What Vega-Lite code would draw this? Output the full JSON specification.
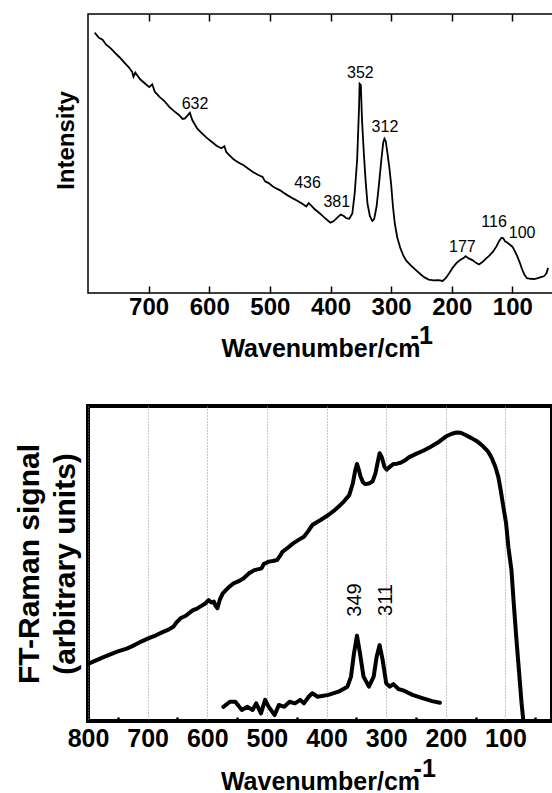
{
  "$schema": "https://vega.github.io/schema/vega-lite/v6.json",
  "padding": {"left": 11, "top": 12, "right": 0, "bottom": 0},
  "background": "white",
  "config": {"view": {"stroke": null}, "font": "Liberation Sans"},
  "spacing": 42,
  "datasets": {
    "top": [
      {"w":789,"v":93.3},{"w":782,"v":91.5},{"w":776,"v":90.8},{"w":770,"v":89.0},{"w":762,"v":87.6},{"w":755,"v":86.0},{"w":748,"v":84.5},{"w":740,"v":82.6},{"w":733,"v":81.0},{"w":727,"v":79.2},{"w":725,"v":77.5},{"w":722,"v":79.0},{"w":714,"v":76.6},{"w":706,"v":75.1},{"w":699,"v":73.8},{"w":694,"v":74.8},{"w":690,"v":72.2},{"w":682,"v":70.3},{"w":674,"v":68.8},{"w":666,"v":66.7},{"w":658,"v":65.2},{"w":650,"v":63.8},{"w":644,"v":62.4},{"w":640,"v":62.6},{"w":636,"v":63.6},{"w":632,"v":64.6},{"w":628,"v":62.0},{"w":620,"v":59.0},{"w":612,"v":57.2},{"w":604,"v":55.6},{"w":596,"v":54.2},{"w":588,"v":52.8},{"w":580,"v":51.9},{"w":575,"v":52.6},{"w":572,"v":50.5},{"w":566,"v":49.2},{"w":560,"v":47.9},{"w":552,"v":46.8},{"w":544,"v":45.9},{"w":536,"v":44.6},{"w":528,"v":43.4},{"w":520,"v":42.4},{"w":512,"v":41.6},{"w":508,"v":40.0},{"w":502,"v":39.4},{"w":495,"v":38.2},{"w":488,"v":37.3},{"w":483,"v":36.8},{"w":478,"v":36.0},{"w":470,"v":34.9},{"w":462,"v":33.9},{"w":454,"v":33.0},{"w":446,"v":31.9},{"w":440,"v":31.0},{"w":436,"v":32.2},{"w":432,"v":31.4},{"w":426,"v":30.0},{"w":418,"v":28.6},{"w":410,"v":27.0},{"w":404,"v":25.9},{"w":400,"v":25.2},{"w":396,"v":25.6},{"w":392,"v":26.3},{"w":388,"v":27.2},{"w":383,"v":28.1},{"w":378,"v":27.6},{"w":374,"v":26.8},{"w":369,"v":26.6},{"w":364,"v":28.5},{"w":360,"v":36.0},{"w":356,"v":48.0},{"w":353,"v":66.0},{"w":352,"v":75.0},{"w":350,"v":74.5},{"w":348,"v":62.0},{"w":345,"v":50.0},{"w":342,"v":40.0},{"w":339,"v":32.0},{"w":335,"v":27.5},{"w":331,"v":25.8},{"w":328,"v":26.5},{"w":324,"v":31.0},{"w":320,"v":39.0},{"w":316,"v":48.0},{"w":313,"v":54.0},{"w":311,"v":55.3},{"w":309,"v":54.5},{"w":306,"v":50.0},{"w":303,"v":45.0},{"w":300,"v":39.0},{"w":297,"v":31.0},{"w":294,"v":25.0},{"w":290,"v":20.0},{"w":285,"v":16.2},{"w":280,"v":13.5},{"w":275,"v":11.6},{"w":268,"v":10.0},{"w":260,"v":8.4},{"w":252,"v":6.8},{"w":245,"v":5.6},{"w":238,"v":4.8},{"w":230,"v":4.5},{"w":222,"v":4.6},{"w":215,"v":4.3},{"w":210,"v":5.3},{"w":204,"v":7.2},{"w":198,"v":9.2},{"w":192,"v":10.8},{"w":186,"v":11.8},{"w":180,"v":12.6},{"w":177,"v":13.2},{"w":172,"v":12.4},{"w":166,"v":11.8},{"w":160,"v":10.8},{"w":155,"v":10.2},{"w":150,"v":11.0},{"w":144,"v":12.2},{"w":138,"v":13.4},{"w":132,"v":14.8},{"w":126,"v":16.8},{"w":122,"v":18.6},{"w":118,"v":19.8},{"w":115,"v":19.6},{"w":112,"v":18.5},{"w":108,"v":18.0},{"w":104,"v":17.3},{"w":100,"v":16.6},{"w":96,"v":15.0},{"w":92,"v":13.2},{"w":88,"v":11.0},{"w":84,"v":8.5},{"w":80,"v":6.5},{"w":76,"v":5.3},{"w":70,"v":5.1},{"w":64,"v":5.0},{"w":58,"v":5.3},{"w":52,"v":5.8},{"w":48,"v":6.0},{"w":44,"v":7.0},{"w":41,"v":9.0}
    ],
    "topLabels": [
      {"w":623.5,"v":67.6,"label":"632"},{"w":437.9,"v":39.6,"label":"436"},{"w":389.6,"v":32.6,"label":"381"},{"w":350.8,"v":79.0,"label":"352"},{"w":310.2,"v":59.5,"label":"312"},{"w":182.5,"v":16.6,"label":"177"},{"w":130.2,"v":25.4,"label":"116"},{"w":83.9,"v":21.4,"label":"100"}
    ],
    "ft": [
      {"s":"a","w":798,"v":18.3},{"s":"a","w":775,"v":20.2},{"s":"a","w":751,"v":22.0},{"s":"a","w":735,"v":23.0},{"s":"a","w":722,"v":24.1},{"s":"a","w":710,"v":25.3},{"s":"a","w":698,"v":26.3},{"s":"a","w":686,"v":27.2},{"s":"a","w":674,"v":28.3},{"s":"a","w":665,"v":29.0},{"s":"a","w":657,"v":29.9},{"s":"a","w":652,"v":31.2},{"s":"a","w":645,"v":32.6},{"s":"a","w":636,"v":33.4},{"s":"a","w":624,"v":35.2},{"s":"a","w":618,"v":35.6},{"s":"a","w":612,"v":36.3},{"s":"a","w":604,"v":37.2},{"s":"a","w":598,"v":38.4},{"s":"a","w":593,"v":37.6},{"s":"a","w":589,"v":37.9},{"s":"a","w":586,"v":36.5},{"s":"a","w":583,"v":35.8},{"s":"a","w":579,"v":38.5},{"s":"a","w":574,"v":40.5},{"s":"a","w":565,"v":42.3},{"s":"a","w":556,"v":43.7},{"s":"a","w":548,"v":44.3},{"s":"a","w":539,"v":45.3},{"s":"a","w":530,"v":46.9},{"s":"a","w":521,"v":47.9},{"s":"a","w":514,"v":48.2},{"s":"a","w":509,"v":48.5},{"s":"a","w":505,"v":49.9},{"s":"a","w":500,"v":50.3},{"s":"a","w":497,"v":50.6},{"s":"a","w":490,"v":50.8},{"s":"a","w":483,"v":51.1},{"s":"a","w":478,"v":52.4},{"s":"a","w":474,"v":53.7},{"s":"a","w":465,"v":55.0},{"s":"a","w":456,"v":56.4},{"s":"a","w":447,"v":57.5},{"s":"a","w":438,"v":58.5},{"s":"a","w":431,"v":60.2},{"s":"a","w":424,"v":62.2},{"s":"a","w":410,"v":63.8},{"s":"a","w":397,"v":65.4},{"s":"a","w":388,"v":66.7},{"s":"a","w":380,"v":68.0},{"s":"a","w":370,"v":69.9},{"s":"a","w":362,"v":71.7},{"s":"a","w":356,"v":75.4},{"s":"a","w":352,"v":79.5},{"s":"a","w":349,"v":81.6},{"s":"a","w":346,"v":79.8},{"s":"a","w":343,"v":77.6},{"s":"a","w":339,"v":75.8},{"s":"a","w":335,"v":75.2},{"s":"a","w":329,"v":75.4},{"s":"a","w":323,"v":76.0},{"s":"a","w":318,"v":78.6},{"s":"a","w":314,"v":82.4},{"s":"a","w":311,"v":85.0},{"s":"a","w":307,"v":83.5},{"s":"a","w":303,"v":80.7},{"s":"a","w":299,"v":79.8},{"s":"a","w":297,"v":80.2},{"s":"a","w":292,"v":81.0},{"s":"a","w":288,"v":81.6},{"s":"a","w":282,"v":81.7},{"s":"a","w":276,"v":82.0},{"s":"a","w":268,"v":82.8},{"s":"a","w":262,"v":83.7},{"s":"a","w":250,"v":84.8},{"s":"a","w":238,"v":85.8},{"s":"a","w":226,"v":87.0},{"s":"a","w":214,"v":88.3},{"s":"a","w":200,"v":90.3},{"s":"a","w":190,"v":91.2},{"s":"a","w":182,"v":91.6},{"s":"a","w":175,"v":91.5},{"s":"a","w":167,"v":90.8},{"s":"a","w":157,"v":89.8},{"s":"a","w":147,"v":88.7},{"s":"a","w":138,"v":87.3},{"s":"a","w":129,"v":85.5},{"s":"a","w":123,"v":83.5},{"s":"a","w":117,"v":80.7},{"s":"a","w":112,"v":77.5},{"s":"a","w":108,"v":73.3},{"s":"a","w":104,"v":68.5},{"s":"a","w":99,"v":62.8},{"s":"a","w":95,"v":55.0},{"s":"a","w":90,"v":47.9},{"s":"a","w":86,"v":37.0},{"s":"a","w":82,"v":26.8},{"s":"a","w":77,"v":15.0},{"s":"a","w":73,"v":5.6},{"s":"a","w":70,"v":0},
      {"s":"b","w":573,"v":4.5},{"s":"b","w":562,"v":6.1},{"s":"b","w":553,"v":6.1},{"s":"b","w":542,"v":3.5},{"s":"b","w":533,"v":4.5},{"s":"b","w":524,"v":3.5},{"s":"b","w":518,"v":5.6},{"s":"b","w":510,"v":2.4},{"s":"b","w":503,"v":6.7},{"s":"b","w":497,"v":4.5},{"s":"b","w":487,"v":1.9},{"s":"b","w":480,"v":5.1},{"s":"b","w":471,"v":4.5},{"s":"b","w":462,"v":6.1},{"s":"b","w":453,"v":5.6},{"s":"b","w":444,"v":6.7},{"s":"b","w":438,"v":5.6},{"s":"b","w":430,"v":7.7},{"s":"b","w":424,"v":8.8},{"s":"b","w":415,"v":7.7},{"s":"b","w":397,"v":8.3},{"s":"b","w":380,"v":9.3},{"s":"b","w":365,"v":10.9},{"s":"b","w":359,"v":14.1},{"s":"b","w":354,"v":21.5},{"s":"b","w":349,"v":27.1},{"s":"b","w":344,"v":21.5},{"s":"b","w":338,"v":14.1},{"s":"b","w":329,"v":10.9},{"s":"b","w":321,"v":14.1},{"s":"b","w":316,"v":20.4},{"s":"b","w":311,"v":24.1},{"s":"b","w":306,"v":19.4},{"s":"b","w":300,"v":12.0},{"s":"b","w":294,"v":10.9},{"s":"b","w":288,"v":11.7},{"s":"b","w":279,"v":10.1},{"s":"b","w":270,"v":9.6},{"s":"b","w":256,"v":8.3},{"s":"b","w":238,"v":7.2},{"s":"b","w":223,"v":6.3},{"s":"b","w":210,"v":5.8}
    ],
    "ftLabels": [
      {"w":352,"v":38.4,"label":"349"},{"w":301,"v":38.4,"label":"311"}
    ]
  },
  "vconcat": [
    {
      "width": 465,
      "height": 279,
      "view": {"stroke": "black", "strokeWidth": 1.5},
      "layer": [
        {
          "data": {"name": "top"},
          "mark": {"type": "line", "color": "black", "strokeWidth": 1.8},
          "encoding": {
            "x": {
              "field": "w", "type": "quantitative",
              "scale": {"domain": [33, 800], "reverse": true, "nice": false, "zero": false},
              "axis": {
                "orient": "bottom",
                "values": [700, 600, 500, 400, 300, 200, 100],
                "domain": false, "grid": false, "labelOverlap": false, "labelFlush": false,
                "tickSize": -7, "tickColor": "black", "tickWidth": 1.5,
                "labelFont": "Liberation Sans", "labelFontWeight": "bold", "labelFontSize": 24, "labelColor": "black",
                "labelPadding": 9,
                "title": ["\u200b\u00a0\u00a0\u00a0\u00a0\u00a0\u00a0\u00a0\u00a0\u00a0\u00a0\u00a0\u00a0\u00a0\u00a0\u00a0\u00a0\u00a0\u00a0\u00a0\u00a0\u00a0\u00a0\u00a0\u00a0\u00a0\u00a0\u00a0\u00a0\u00a0-1", "Wavenumber/cm"],
                "titleFont": "Liberation Sans", "titleFontWeight": "bold", "titleFontSize": 25, "titleColor": "black",
                "titleLineHeight": 13, "titlePadding": 4
              }
            },
            "y": {
              "field": "v", "type": "quantitative",
              "scale": {"domain": [0, 100], "nice": false, "zero": false},
              "axis": {
                "title": "Intensity", "labels": false, "ticks": false, "domain": false, "grid": false,
                "minExtent": 0,
                "titleFont": "Liberation Sans", "titleFontWeight": "bold", "titleFontSize": 24, "titleColor": "black",
                "titlePadding": 10, "titleY": 126
              }
            }
          }
        },
        {
          "data": {"name": "topLabels"},
          "mark": {"type": "text", "font": "Liberation Sans", "fontSize": 16, "color": "black", "align": "center", "baseline": "middle"},
          "encoding": {
            "x": {
              "field": "w", "type": "quantitative",
              "axis": {
                "orient": "top", "values": [700, 600, 500, 400, 300, 200, 100],
                "labels": false, "domain": false, "grid": false, "title": null,
                "tickSize": -7, "tickColor": "black", "tickWidth": 1.5
              }
            },
            "y": {"field": "v", "type": "quantitative"},
            "text": {"field": "label"}
          }
        }
      ],
      "resolve": {"axis": {"x": "independent"}}
    },
    {
      "width": 464,
      "height": 315,
      "view": {"stroke": "black", "strokeWidth": 4},
      "layer": [
        {
          "data": {"name": "ft"},
          "mark": {"type": "line", "color": "black", "strokeWidth": 4, "strokeJoin": "round", "strokeCap": "round"},
          "encoding": {
            "x": {
              "field": "w", "type": "quantitative",
              "scale": {"domain": [22, 800], "reverse": true, "nice": false, "zero": false},
              "axis": {
                "orient": "bottom",
                "values": [800, 700, 600, 500, 400, 300, 200, 100],
                "domain": false, "ticks": false, "labelOverlap": false, "labelFlush": false,
                "grid": true, "gridColor": "#888", "gridDash": [1, 2], "gridWidth": 1,
                "labelFont": "Liberation Sans", "labelFontWeight": "bold", "labelFontSize": 25, "labelColor": "black",
                "labelPadding": 5,
                "title": ["\u200b\u00a0\u00a0\u00a0\u00a0\u00a0\u00a0\u00a0\u00a0\u00a0\u00a0\u00a0\u00a0\u00a0\u00a0\u00a0\u00a0\u00a0\u00a0\u00a0\u00a0\u00a0\u00a0\u00a0\u00a0\u00a0\u00a0\u00a0\u00a0\u00a0\u00a0-1", "Wavenumber/cm"],
                "titleFont": "Liberation Sans", "titleFontWeight": "bold", "titleFontSize": 25, "titleColor": "black",
                "titleLineHeight": 13, "titlePadding": 5
              }
            },
            "y": {
              "field": "v", "type": "quantitative",
              "scale": {"domain": [0, 100], "nice": false, "zero": false},
              "axis": {
                "title": ["FT-Raman signal", "(arbitrary units)"], "labels": false, "ticks": false, "domain": false, "grid": false,
                "minExtent": 0,
                "titleFont": "Liberation Sans", "titleFontWeight": "bold", "titleFontSize": 30, "titleColor": "black",
                "titleLineHeight": 36, "titlePadding": 8
              }
            },
            "detail": {"field": "s", "type": "nominal"}
          }
        },
        {
          "data": {"name": "ftLabels"},
          "mark": {"type": "text", "font": "Liberation Sans", "fontSize": 20, "color": "black", "angle": 270, "align": "center", "baseline": "middle"},
          "encoding": {
            "x": {
              "field": "w", "type": "quantitative",
              "axis": {
                "orient": "bottom", "values": [750, 650, 550, 450, 350, 250, 150, 50],
                "labels": false, "domain": false, "grid": false, "title": null,
                "tickSize": -4, "tickColor": "black", "tickWidth": 2.5
              }
            },
            "y": {"field": "v", "type": "quantitative"},
            "text": {"field": "label"}
          }
        }
      ],
      "resolve": {"axis": {"x": "independent"}}
    }
  ]
}
